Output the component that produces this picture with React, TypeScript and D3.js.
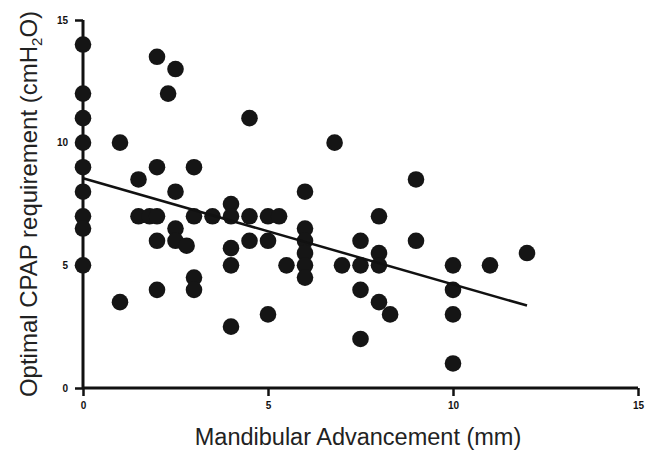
import { useEffect, useRef } from "react";
import * as d3 from "d3";

// advancement (mm) and CPAP (cmH2O)
const advancement = [
  0, 0, 0, 0, 0, 0, 0, 0, 0,
  1, 1,
  1.5, 1.5, 1.8, 2,
  2, 2, 2, 2,
  2.3, 2.5, 2.5, 2.5, 2.5, 2.8,
  3, 3, 3, 3,
  3.5,
  4, 4, 4, 4, 4,
  4.5, 4.5, 4.5,
  5, 5.3, 5, 5,
  5.5,
  6, 6, 6, 6, 6, 6,
  6.8,
  7,
  7.5, 7.5, 7.5, 7.5,
  8, 8, 8, 8,
  8.3,
  9, 9,
  10, 10, 10, 10,
  11, 12,
];
const cpap = [
  14, 12, 11, 10, 9, 8, 7, 6.5, 5,
  10, 3.5,
  8.5, 7, 7, 7,
  13.5, 9, 6, 4,
  12, 13, 8, 6.5, 6, 5.8,
  9, 7, 4.5, 4,
  7,
  7.5, 7, 5.7, 5, 2.5,
  11, 7, 6,
  7, 7, 6, 3,
  5,
  8, 6.5, 6, 5.5, 5, 4.5,
  10,
  5,
  6, 5, 4, 2,
  7, 5.5, 5, 3.5,
  3,
  8.5, 6,
  5, 4, 3, 1,
  5, 5.5,
];

const xTicks = [0, 5, 10, 15];
const yTicks = [0, 5, 10, 15];

// fitted line as drawn
const fitStart = [0, 8.55];
const fitEnd = [12, 3.36];

export default function App() {
  const ref = useRef<SVGSVGElement>(null);

  useEffect(() => {
    const width = 654;
    const height = 452;
    const svg = d3.select(ref.current);
    svg.selectAll("*").remove();

    const x = d3.scaleLinear().domain([0, 15]).range([83, 638]);
    const y = d3.scaleLinear().domain([0, 15]).range([388, 20]);

    const font = "'Liberation Sans', Arial, sans-serif";

    // axes
    const xAxis = svg
      .append("g")
      .attr("transform", `translate(0,${y(0)})`)
      .call(d3.axisBottom(x).tickValues(xTicks).tickSize(8).tickPadding(6).tickFormat(d3.format("d")));
    const yAxis = svg
      .append("g")
      .attr("transform", `translate(${x(0)},0)`)
      .call(d3.axisLeft(y).tickValues(yTicks).tickSize(8).tickPadding(7).tickFormat(d3.format("d")));

    [xAxis, yAxis].forEach((g) => {
      g.select(".domain").attr("stroke", "#111").attr("stroke-width", 3);
      g.selectAll(".tick line").attr("stroke", "#111").attr("stroke-width", 2.5);
      g.selectAll(".tick text")
        .attr("fill", "#111")
        .style("font-family", font)
        .style("font-size", "10px")
        .style("font-weight", "bold");
    });
    // domains without end caps
    xAxis.select(".domain").attr("d", `M${x(0)},0H${x(15)}`);
    yAxis.select(".domain").attr("d", `M0,${y(0)}V${y(15)}`);

    // dots
    svg
      .append("g")
      .selectAll("circle")
      .data(advancement.map((a, i) => [a, cpap[i]]))
      .join("circle")
      .attr("cx", (d) => x(d[0]))
      .attr("cy", (d) => y(d[1]))
      .attr("r", 8.3)
      .attr("fill", "#151515");

    // regression line
    svg
      .append("line")
      .attr("x1", x(fitStart[0]))
      .attr("y1", y(fitStart[1]))
      .attr("x2", x(fitEnd[0]))
      .attr("y2", y(fitEnd[1]))
      .attr("stroke", "#111")
      .attr("stroke-width", 2.5);

    // axis titles
    svg
      .append("text")
      .attr("x", 358)
      .attr("y", 445)
      .attr("text-anchor", "middle")
      .style("font-family", font)
      .style("font-size", "23.5px")
      .attr("fill", "#222")
      .text("Mandibular Advancement (mm)");

    const yt = svg
      .append("text")
      .attr("transform", `translate(37,${(y(0) + y(15)) / 2}) rotate(-90)`)
      .attr("text-anchor", "middle")
      .style("font-family", font)
      .style("font-size", "24px")
      .attr("fill", "#222");
    yt.append("tspan").text("Optimal CPAP requirement (cmH");
    yt.append("tspan").attr("dy", 5).style("font-size", "15px").text("2");
    yt.append("tspan").attr("dy", -5).text("O)");

    svg.attr("width", width).attr("height", height);
  }, []);

  return (
    <svg
      ref={ref}
      width={654}
      height={452}
      style={{ position: "absolute", left: 0, top: 0, background: "#fff" }}
    />
  );
}
